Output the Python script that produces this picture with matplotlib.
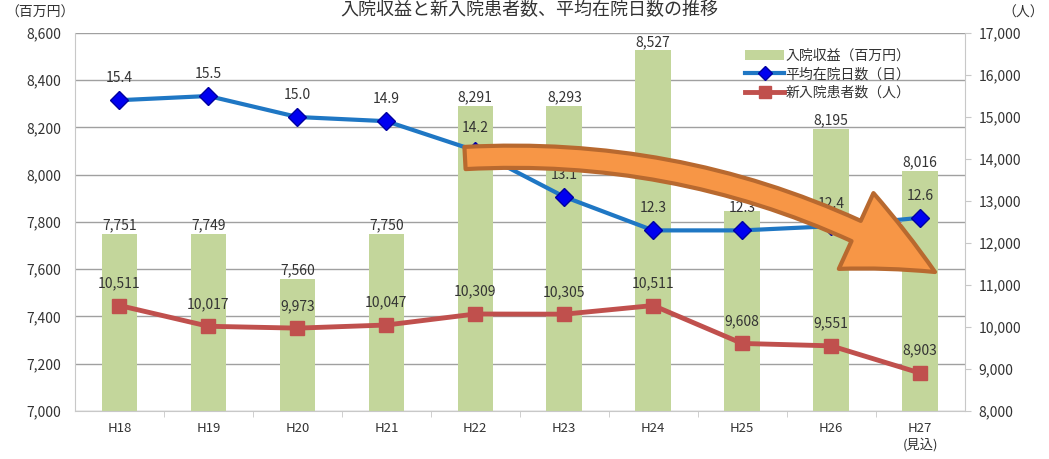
import matplotlib
matplotlib.use("Agg")
from matplotlib import pyplot as plt
from matplotlib.patches import FancyArrowPatch
from matplotlib.lines import Line2D
from matplotlib.patches import Patch

plt.rcParams['font.family'] = ['Noto Sans CJK JP', 'DejaVu Sans']

years = ["H18", "H19", "H20", "H21", "H22", "H23", "H24", "H25", "H26", "H27\n(見込)"]
revenue = [7751, 7749, 7560, 7750, 8291, 8293, 8527, 7845, 8195, 8016]
revenue_label = [True, True, True, True, True, True, True, False, True, True]
stay_days = [15.4, 15.5, 15.0, 14.9, 14.2, 13.1, 12.3, 12.3, 12.4, 12.6]
new_patients = [10511, 10017, 9973, 10047, 10309, 10305, 10511, 9608, 9551, 8903]

green = "#C3D69B"
blue = "#1F77C4"
blue_mk = "#0000F0"
red = "#C0504D"
txt = "#333333"

fig = plt.figure(figsize=(10.49, 4.59), dpi=100)
ax = fig.add_axes([0.0715, 0.1046, 0.848, 0.8235])
x = list(range(len(years)))

# bars (left axis)
ax.bar(x, revenue, width=0.4, color=green, zorder=2)
ax.set_ylim(7000, 8600)
ax.set_xlim(-0.5, len(years) - 0.5)
ax.set_yticks(range(7000, 8601, 200))
ax.set_yticklabels(["{:,}".format(v) for v in range(7000, 8601, 200)], color=txt, fontsize=10)
ax.yaxis.grid(True, color="#A0A0A0", linewidth=1)
ax.set_axisbelow(True)
ax.tick_params(axis="y", length=0, pad=10)
ax.set_xticks(x)
ax.set_xticklabels(years, color=txt, fontsize=9.5, linespacing=1.2)
ax.set_xticks([i + 0.5 for i in x[:-1]], minor=True)
ax.tick_params(axis="x", which="major", length=0, pad=8)
ax.tick_params(axis="x", which="minor", length=4, color="#C8C8C8")
for s in ["top", "right"]:
    ax.spines[s].set_visible(False)
ax.spines["left"].set_color("#C8C8C8")
ax.spines["bottom"].set_color("#C8C8C8")
for i, v in enumerate(revenue):
    if revenue_label[i]:
        ax.annotate("{:,}".format(v), (i, v), xytext=(0, 1), textcoords="offset points",
                    ha="center", va="bottom", fontsize=10, color=txt, zorder=3)

# new patients (right axis)
ax2 = ax.twinx()
ax2.plot(x, new_patients, color=red, linewidth=3.5, marker="s", markersize=10,
         markerfacecolor=red, markeredgecolor=red, zorder=4)
ax2.set_ylim(8000, 17000)
ax2.set_yticks(range(8000, 17001, 1000))
ax2.set_yticklabels(["{:,}".format(v) for v in range(8000, 17001, 1000)], color=txt, fontsize=10)
ax2.tick_params(axis="y", length=4, color="#C8C8C8", pad=6)
for s in ["top", "left", "bottom"]:
    ax2.spines[s].set_visible(False)
ax2.spines["right"].set_color("#C8C8C8")
for i, v in enumerate(new_patients):
    ax2.annotate("{:,}".format(v), (i, v), xytext=(0, 11), textcoords="offset points",
                 ha="center", va="bottom", fontsize=10, color=txt)

# average stay days (hidden axis)
ax3 = ax.twinx()
ax3.plot(x, stay_days, color=blue, linewidth=3, marker="D", markersize=9,
         markerfacecolor=blue_mk, markeredgecolor="#0000A0", zorder=5)
ax3.set_ylim(8, 17)
ax3.axis("off")
for i, v in enumerate(stay_days):
    ax3.annotate("{:.1f}".format(v), (i, v), xytext=(0, 11), textcoords="offset points",
                 ha="center", va="bottom", fontsize=10, color=txt)

handles = [
    Patch(facecolor=green, edgecolor="none"),
    Line2D([], [], color=blue, linewidth=3, marker="D", markersize=7,
           markerfacecolor=blue_mk, markeredgecolor="#0000A0"),
    Line2D([], [], color=red, linewidth=3.5, marker="s", markersize=8, markerfacecolor=red,
           markeredgecolor=red),
]
labels = ["入院収益（百万円）", "平均在院日数（日）", "新入院患者数（人）"]
fig.legend(handles, labels, loc="upper left", bbox_to_anchor=(0.705, 0.905), frameon=False,
           fontsize=10, handlelength=2.8, handletextpad=0.1, labelspacing=0.3,
           borderaxespad=0, labelcolor=txt)

fig.text(0.505, 0.998, "入院収益と新入院患者数、平均在院日数の推移", ha="center", va="top",
         fontsize=13, color=txt)
fig.text(0.005, 0.972, "（百万円）", ha="left", va="center", fontsize=10, color=txt)
fig.text(0.995, 0.972, "（人）", ha="right", va="center", fontsize=10, color=txt)

# big orange arrow
arrow = FancyArrowPatch((465 / 1049, 1 - 158 / 459), (935 / 1049, 1 - 272 / 459),
                        transform=fig.transFigure, connectionstyle="arc3,rad=-0.15",
                        arrowstyle="simple,head_length=64,head_width=60,tail_width=16",
                        mutation_scale=1, facecolor="#F79646", edgecolor="#B8692F",
                        linewidth=3, shrinkA=0, shrinkB=0, zorder=10)
fig.add_artist(arrow)

fig.savefig("out.png", dpi=100)
